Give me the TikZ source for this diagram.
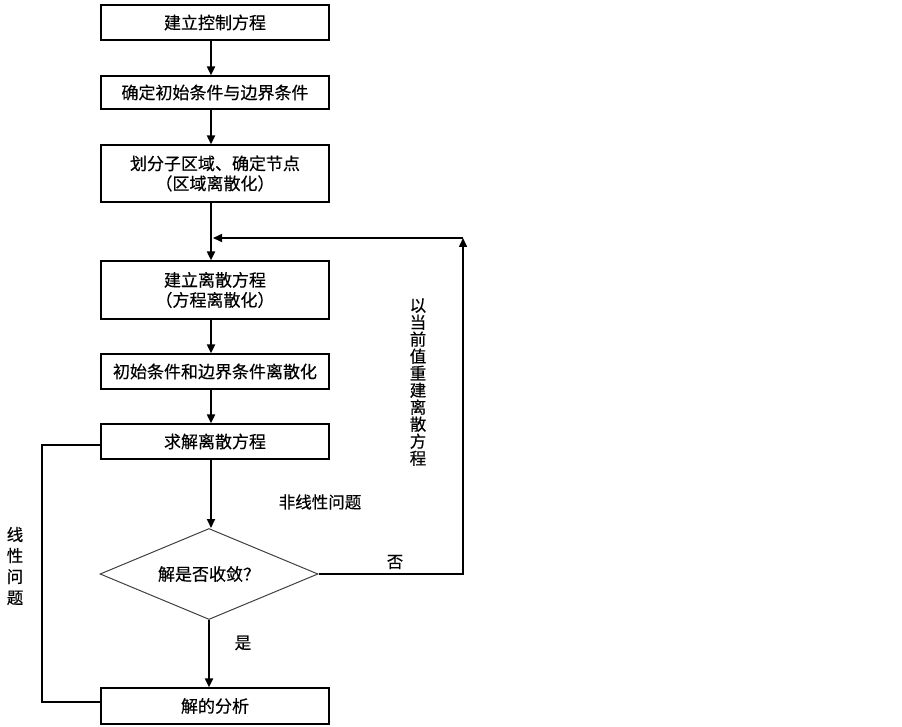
\documentclass[tikz,border=0pt]{standalone}
\usepackage{fontspec}
\newfontfamily\cjk[FakeBold=0.4]{Noto Sans CJK SC}
\usetikzlibrary{shapes.geometric,arrows.meta}
\begin{document}
\begin{tikzpicture}[x=1pt,y=-1pt,
 box/.style={draw,line width=1.3pt,minimum width=228pt,inner sep=0pt,align=center,font=\cjk\fontsize{17}{20}\selectfont},
 arr/.style={line width=2pt,-{Triangle[length=9pt,width=8pt]}},
 fbline/.style={line width=1.5pt},
 lbl/.style={font=\cjk\fontsize{16.5}{17}\selectfont,align=center,inner sep=0pt}]
\useasboundingbox (0,0) rectangle (902,727);
\node[box,minimum height=35pt] (b1) at (215,22.5) {建立控制方程};
\node[box,minimum height=33pt] (b2) at (215,92.5) {确定初始条件与边界条件};
\node[box,minimum height=57pt] (b3) at (215,173.5) {划分子区域、确定节点\\（区域离散化）};
\node[box,minimum height=58pt] (b4) at (215,290) {建立离散方程\\（方程离散化）};
\node[box,minimum height=35pt] (b5) at (215,371.5) {初始条件和边界条件离散化};
\node[box,minimum height=35pt] (b6) at (215,441.5) {求解离散方程};
\node[draw=black!75,line width=1pt,diamond,aspect=2.4,minimum width=218pt,minimum height=91pt,inner sep=0pt,font=\cjk\fontsize{17}{20}\selectfont] (d) at (209,574) {解是否收敛？};
\node[box,minimum height=36pt] (b7) at (215,706) {解的分析};
\draw[arr] ([xshift=-4pt]b1.south) -- ([xshift=-4pt]b2.north);
\draw[arr] ([xshift=-4pt]b2.south) -- ([xshift=-4pt]b3.north);
\draw[arr] ([xshift=-4pt]b3.south) -- ([xshift=-4pt]b4.north);
\draw[arr] ([xshift=-4pt]b4.south) -- ([xshift=-4pt]b5.north);
\draw[arr] ([xshift=-4pt]b5.south) -- ([xshift=-4pt]b6.north);
\draw[arr] ([xshift=-4pt]b6.south) -- ([xshift=-4pt]b6.south |- d.north);
\draw[arr] (d.south) -- (d.south |- b7.north);
\coordinate (fb) at (463,238);
\coordinate (j) at (213,238);
\draw[fbline,-{Triangle[length=9pt,width=8pt]}] (d.east) -| (fb);
\draw[fbline,-{Triangle[length=9pt,width=8pt]}] (fb) -- (j);
\coordinate (l1) at (42,445);
\coordinate (l2) at (42,702);
\draw[line width=1.3pt] (l1 -| b6.west) -- (l1) -- (l2) -- (l2 -| b7.west);
\node[lbl,font=\cjk\fontsize{16.5}{21}\selectfont] (t1) at (15,566) {线\\性\\问\\题};
\node[lbl] (t2) at (320,502) {非线性问题};
\node[lbl] (t3) at (395,562) {否};
\node[lbl] (t4) at (243,643) {是};
\node[lbl] (t5) at (418,382) {以\\当\\前\\值\\重\\建\\离\\散\\方\\程};
\end{tikzpicture}
\end{document}
